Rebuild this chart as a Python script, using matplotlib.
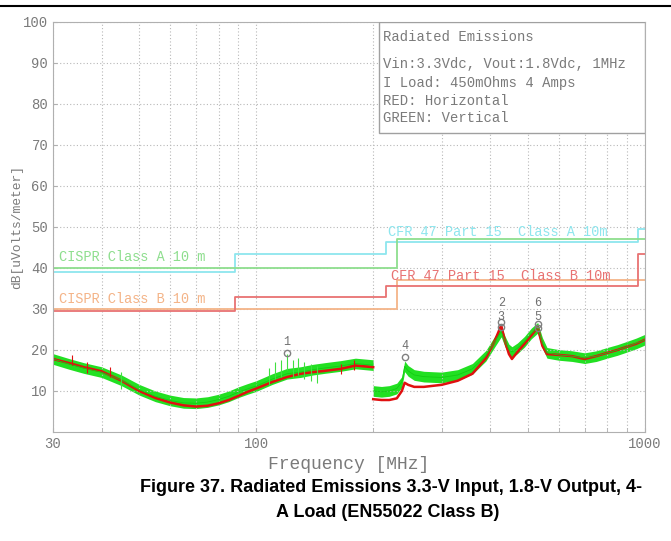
import matplotlib
matplotlib.use("Agg")
import matplotlib.pyplot as plt
from matplotlib.lines import Line2D
from matplotlib.patches import Rectangle
import numpy as np

# limit lines (step edges, MHz / dBuV/m)
cispr_a_f = [30, 230, 1000]
cispr_a_v = [40, 47, 47]
cispr_b_f = [30, 230, 1000]
cispr_b_v = [30, 37, 37]
fcc_a_f = [30, 88, 216, 960, 1000]
fcc_a_v = [39, 43.5, 46.4, 49.5, 49.5]
fcc_b_f = [30, 88, 216, 960, 1000]
fcc_b_v = [29.5, 33, 35.6, 43.5, 43.5]

# biconical range, 30-200 MHz
f_low = [30, 33, 36, 40, 45, 50, 55, 60, 65, 70, 75, 80, 85, 90, 95, 100,
         110, 120, 130, 140, 150, 165, 180, 190, 200]
red_low = [17.8, 16.8, 15.8, 14.8, 12.5, 10.0, 8.3, 7.2, 6.5, 6.2, 6.4, 7.0, 7.8,
           8.8, 9.8, 10.6, 12.2, 13.4, 14.2, 14.6, 14.9, 15.4, 16.2, 16.0, 15.8]
green_low_lo = [16.5, 15.3, 14.3, 13.3, 11.3, 9.0, 7.4, 6.4, 5.8, 5.7, 6.0, 6.6, 7.4,
                8.4, 9.2, 9.9, 11.6, 12.9, 13.3, 13.9, 14.3, 14.8, 15.4, 15.2, 15.0]
green_low_hi = [19.1, 17.9, 16.9, 15.9, 13.9, 11.6, 10.0, 9.0, 8.4, 8.3, 8.6, 9.2, 10.0,
                11.0, 11.8, 12.5, 14.2, 15.5, 15.9, 16.5, 16.9, 17.4, 18.0, 17.8, 17.6]

# log-periodic range, 200-1000 MHz
f_high = [200, 210, 220, 230, 237, 241, 246, 255, 270, 300, 330, 360, 390, 410,
          427, 437, 447, 455, 470, 490, 510, 530, 545, 560, 600, 650, 700, 750,
          800, 850, 900, 950, 1000]
red_high = [8.0, 7.8, 7.8, 8.2, 10.0, 12.0, 11.5, 11.0, 11.0, 11.5, 12.5, 14.2, 18.0,
            22.0, 26.0, 22.0, 19.0, 17.8, 19.5, 21.5, 23.5, 25.5, 21.0, 19.0, 18.8,
            18.5, 17.8, 18.5, 19.3, 20.0, 20.8, 21.5, 22.5]
green_high_lo = [8.7, 8.5, 8.7, 9.3, 10.9, 14.7, 13.6, 12.6, 12.2, 12.0, 12.6, 14.1,
                 17.3, 20.6, 23.2, 20.7, 18.8, 18.2, 19.1, 20.7, 22.7, 24.1, 20.4,
                 18.0, 17.5, 17.2, 16.7, 17.2, 18.0, 18.7, 19.5, 20.3, 21.2]
green_high_hi = [11.3, 11.1, 11.3, 11.9, 13.5, 17.3, 16.2, 15.2, 14.8, 14.6, 15.2, 16.7,
                 19.9, 23.2, 25.8, 23.3, 21.4, 20.8, 21.7, 23.3, 25.3, 26.7, 23.0,
                 20.6, 20.1, 19.8, 19.3, 19.8, 20.6, 21.3, 22.1, 22.9, 23.8]

# spikes standing out of the band
green_spike_f = [45, 108, 112, 116, 120, 124, 128, 133, 138, 143]
green_spike_v = [14.6, 15.5, 17.0, 17.5, 19.0, 17.5, 18.0, 17.0, 16.5, 16.0]
red_spike_f = [33.6, 36.8, 42, 165, 178]
red_spike_v = [18.8, 17.0, 15.9, 16.6, 17.6]

# peak markers
marker_f = [120, 427, 427, 241, 530, 530]
marker_v = [19.3, 26.8, 25.6, 18.2, 26.3, 25.3]
marker_lbl = ["1", "2", "3", "4", "5", "6"]
marker_lbl_y = [20.6, 30.0, 26.6, 19.6, 26.6, 30.0]

legend_lines = ["Radiated Emissions",
                "Vin:3.3Vdc, Vout:1.8Vdc, 1MHz",
                "I Load: 450mOhms 4 Amps",
                "RED: Horizontal",
                "GREEN: Vertical"]

mono = "Liberation Mono"
gray = "#7a7a7a"

fig = plt.figure(figsize=(6.71, 5.41), dpi=100)
ax = fig.add_axes([0.079, 0.2015, 0.882, 0.758])

# limit lines
ax.step(fcc_a_f, fcc_a_v, where="post", color="#8ee6ee", lw=1.3)
ax.step(cispr_a_f, cispr_a_v, where="post", color="#8ede8e", lw=1.3)
ax.step(cispr_b_f, cispr_b_v, where="post", color="#f4b488", lw=1.3)
ax.step(fcc_b_f, fcc_b_v, where="post", color="#e87272", lw=1.3)

ax.text(31, 42.7, "CISPR Class A 10 m", color="#8ede8e", family=mono, fontsize=9.8, va="center")
ax.text(31, 32.4, "CISPR Class B 10 m", color="#f4b488", family=mono, fontsize=9.8, va="center")
ax.text(218, 48.8, "CFR 47 Part 15  Class A 10m", color="#8ee6ee", family=mono, fontsize=9.8, va="center")
ax.text(222, 38.0, "CFR 47 Part 15  Class B 10m", color="#e87272", family=mono, fontsize=9.8, va="center")

# traces
for f, r, lo, hi in [(f_low, red_low, green_low_lo, green_low_hi),
                     (f_high, red_high, green_high_lo, green_high_hi)]:
    ax.plot(f, r, color="#e01010", lw=1.8)
    ax.fill_between(f, lo, hi, color="#22e022", lw=0)
    ax.plot(f, (np.array(lo) + np.array(hi)) / 2, color="#12cc12", lw=0.6)
ax.vlines(red_spike_f, np.array(red_spike_v) - 2.5, red_spike_v, color="#e01010", lw=0.8)
ax.vlines(green_spike_f, np.array(green_spike_v) - 4, green_spike_v, color="#40e040", lw=0.8)

# markers
ax.plot(marker_f, marker_v, ls="none", marker="o", ms=4.5, mfc="none", mec="#808080", mew=1)
for f, v, s in zip(marker_f, marker_lbl_y, marker_lbl):
    ax.text(f, v, s, color="#707070", family=mono, fontsize=8.5, ha="center", va="bottom")

# axes
ax.set_xscale("log")
ax.set_xlim(30, 1000)
ax.set_ylim(0, 100)
ax.set_xticks([30, 100, 1000])
ax.set_xticklabels(["30", "100", "1000"])
ax.set_xticks([40, 50, 60, 70, 80, 90, 200, 300, 400, 500, 600, 700, 800, 900], minor=True)
ax.xaxis.set_minor_formatter(matplotlib.ticker.NullFormatter())
ax.set_yticks(range(10, 101, 10))
ax.tick_params(axis="both", which="both", direction="in", length=3, color="#b0b0b0",
               labelcolor=gray, labelsize=10)
for lab in ax.get_xticklabels() + ax.get_yticklabels():
    lab.set_family(mono)
ax.grid(True, which="both", axis="x", ls=(0, (1, 2)), color="#b8b8b8", lw=0.8)
ax.grid(True, which="major", axis="y", ls=(0, (1, 2)), color="#b8b8b8", lw=0.8)
for sp in ax.spines.values():
    sp.set_color("#b0b0b0")

ax.set_xlabel("Frequency [MHz]", family=mono, fontsize=13, color=gray, labelpad=4)
ax.set_ylabel("dB[uVolts/meter]", family=mono, fontsize=9.3, color=gray, labelpad=0)

# info box
ax.add_patch(Rectangle((0.551, 0.729), 0.449, 0.271, transform=ax.transAxes,
                       fill=True, fc="white", ec="#a0a0a0", lw=1, zorder=5))
for txt, yy in zip(legend_lines, [0.963, 0.898, 0.851, 0.807, 0.766]):
    ax.text(0.558, yy, txt, transform=ax.transAxes, family=mono, fontsize=10,
            color=gray, va="center", zorder=6)

# header rule and caption
fig.add_artist(Line2D([0, 1], [0.989, 0.989], color="black", lw=1.5))
fig.text(0.583, 0.0998, "Figure 37. Radiated Emissions 3.3-V Input, 1.8-V Output, 4-",
         family="Liberation Sans", weight="bold", fontsize=13, ha="center", va="center")
fig.text(0.578, 0.0536, "A Load (EN55022 Class B)",
         family="Liberation Sans", weight="bold", fontsize=13, ha="center", va="center")

fig.savefig("out.png", dpi=100)
